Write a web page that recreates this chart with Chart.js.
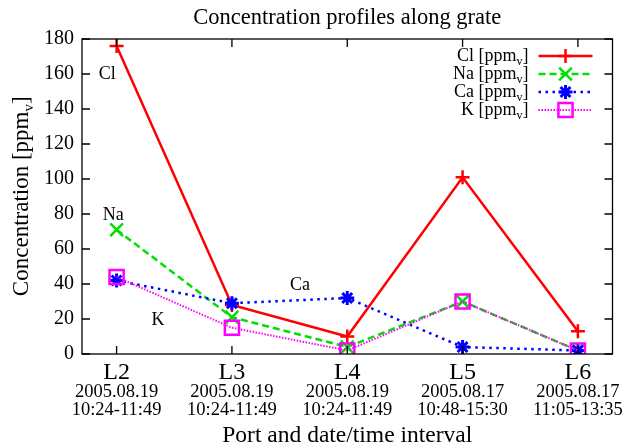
<!DOCTYPE html>
<html>
<head>
<meta charset="utf-8">
<script src="https://cdn.jsdelivr.net/npm/chart.js@4/dist/chart.umd.min.js"></script>
<style>
  html, body { margin: 0; padding: 0; background: #fff; }
  #wrap { width: 625px; height: 447px; }
</style>
</head>
<body>
<div id="wrap"><canvas id="grate"></canvas></div>
<script>
// ports along the grate, and what was measured at each one
const ports = ['L2', 'L3', 'L4', 'L5', 'L6'];
const portX = [2, 3, 4, 5, 6];
const dates = ['2005.08.19', '2005.08.19', '2005.08.19', '2005.08.17', '2005.08.17'];
const times = ['10:24-11:49', '10:24-11:49', '10:24-11:49', '10:48-15:30', '11:05-13:35'];

const clValues = [176, 28, 10, 101, 13];
const naValues = [71, 21, 4, 30, 2];
const caValues = [42, 29, 32, 4, 2];
const kValues = [44, 15, 2, 30, 2];

const yTicks = [0, 20, 40, 60, 80, 100, 120, 140, 160, 180];

// little names written next to the curves
const noteText = ['Cl', 'Na', 'K', 'Ca'];
const noteX = [1.92, 1.97, 2.36, 3.59];
const noteY = [160, 79, 19, 39];

const serif = '"Liberation Serif", "DejaVu Serif", serif';

function pts(values) {
  return values.map((v, i) => ({ x: portX[i], y: v }));
}

// text with a subscript v before the closing bracket, e.g. "Cl [ppm_v]"
function subText(c, head, size, subSize, xRight, y) {
  c.font = size + 'px ' + serif;
  const wh = c.measureText(head).width;
  const wb = c.measureText(']').width;
  c.font = subSize + 'px ' + serif;
  const ws = c.measureText('v').width;
  const x0 = xRight - (wh + ws + wb);
  c.textAlign = 'left';
  c.font = size + 'px ' + serif;
  c.fillText(head, x0, y);
  c.fillText(']', x0 + wh + ws, y);
  c.font = subSize + 'px ' + serif;
  c.fillText('v', x0 + wh, y + size * 0.3);
  return wh + ws + wb;
}

// I draw the gnuplot-like frame, ticks, labels and legend by hand
const gnuplotLook = {
  id: 'gnuplotLook',
  afterDatasetsDraw(chart) {
    const c = chart.ctx;
    const a = chart.chartArea;
    const xs = chart.scales.x;
    const ys = chart.scales.y;
    c.save();

    // frame
    c.strokeStyle = '#000';
    c.lineWidth = 1.3;
    c.strokeRect(a.left, a.top, a.right - a.left, a.bottom - a.top);

    // inward ticks
    c.beginPath();
    yTicks.forEach(t => {
      const y = ys.getPixelForValue(t);
      c.moveTo(a.left, y); c.lineTo(a.left + 8, y);
      c.moveTo(a.right, y); c.lineTo(a.right - 8, y);
    });
    portX.forEach(p => {
      const x = xs.getPixelForValue(p);
      c.moveTo(x, a.bottom); c.lineTo(x, a.bottom - 8);
      c.moveTo(x, a.top); c.lineTo(x, a.top + 8);
    });
    c.stroke();

    c.fillStyle = '#000';
    // x tick labels, three lines each
    c.textAlign = 'center';
    c.textBaseline = 'middle';
    portX.forEach((p, i) => {
      const x = xs.getPixelForValue(p);
      c.font = '24px ' + serif;
      c.fillText(ports[i], x, a.bottom + 19);
      c.font = '18.5px ' + serif;
      c.fillText(dates[i], x, a.bottom + 38);
      c.fillText(times[i], x, a.bottom + 56);
    });

    // titles
    const midX = (a.left + a.right) / 2;
    c.font = '22.5px ' + serif;
    c.fillText('Concentration profiles along grate', midX, 18);
    c.font = '23.5px ' + serif;
    c.fillText('Port and date/time interval', midX, 436);

    // y title with subscript v
    c.save();
    c.translate(22, (a.top + a.bottom) / 2);
    c.rotate(-Math.PI / 2);
    c.font = '23px ' + serif;
    const full = c.measureText('Concentration [ppm]').width + 8;
    subText(c, 'Concentration [ppm', 23, 15, full / 2, 0);
    c.restore();

    // notes beside curves
    c.font = '18px ' + serif;
    c.textAlign = 'center';
    noteText.forEach((t, i) => {
      c.fillText(t, xs.getPixelForValue(noteX[i]), ys.getPixelForValue(noteY[i]));
    });

    // legend, top right inside the frame
    const names = ['Cl', 'Na', 'Ca', 'K'];
    chart.data.datasets.forEach((ds, i) => {
      const y = a.top + 17 + i * 18;
      c.fillStyle = '#000';
      subText(c, names[i] + ' [ppm', 18, 12, a.right - 84, y);

      const lx0 = a.right - 74, lx1 = a.right - 20;
      c.save();
      c.strokeStyle = ds.borderColor;
      c.lineWidth = ds.borderWidth;
      c.setLineDash(ds.borderDash || []);
      c.beginPath();
      c.moveTo(lx0, y); c.lineTo(lx1, y);
      c.stroke();
      c.setLineDash([]);
      c.lineWidth = ds.pointBorderWidth;
      c.fillStyle = 'rgba(0,0,0,0)';
      const opts = { pointStyle: ds.pointStyle, radius: ds.pointRadius, borderWidth: ds.pointBorderWidth };
      Chart.helpers.drawPoint(c, opts, (lx0 + lx1) / 2, y);
      c.restore();
    });

    c.restore();
  }
};

new Chart(document.getElementById('grate'), {
  type: 'line',
  data: {
    datasets: [
      {
        label: 'Cl [ppmv]', data: pts(clValues), borderColor: '#ff0000',
        borderWidth: 2.5, pointStyle: 'cross', pointRadius: 7, pointBorderWidth: 2.5,
        pointBackgroundColor: 'transparent', order: 3
      },
      {
        label: 'Na [ppmv]', data: pts(naValues), borderColor: '#00e000',
        borderWidth: 2.5, borderDash: [7, 4], pointStyle: 'crossRot', pointRadius: 9,
        pointBorderWidth: 2.5, pointBackgroundColor: 'transparent', order: 2
      },
      {
        label: 'Ca [ppmv]', data: pts(caValues), borderColor: '#0000ff',
        borderWidth: 2.5, borderDash: [2.5, 4.5], pointStyle: 'star', pointRadius: 7,
        pointBorderWidth: 3, pointBackgroundColor: 'transparent', order: 1
      },
      {
        label: 'K [ppmv]', data: pts(kValues), borderColor: '#ff00ff',
        borderWidth: 2, borderDash: [1.5, 1.5], pointStyle: 'rect', pointRadius: 10,
        pointBorderWidth: 2.5, pointBackgroundColor: 'transparent', order: 0
      }
    ]
  },
  options: {
    responsive: true,
    maintainAspectRatio: false,
    animation: false,
    layout: { padding: { top: 39, right: 8, left: 0, bottom: 0 } },
    plugins: { legend: { display: false }, title: { display: false }, tooltip: { enabled: false } },
    scales: {
      x: {
        type: 'linear', min: 1.7, max: 6.3,
        grid: { display: false, drawTicks: false },
        border: { display: false },
        ticks: { display: false },
        afterFit: s => { s.height = 93; }
      },
      y: {
        min: 0, max: 180,
        grid: { display: false, drawTicks: false },
        border: { display: false },
        ticks: {
          stepSize: 20, padding: 8, color: '#000',
          font: { family: serif, size: 20 }
        },
        afterFit: s => { s.width = 82; }
      }
    }
  },
  plugins: [gnuplotLook]
});
</script>
</body>
</html>
